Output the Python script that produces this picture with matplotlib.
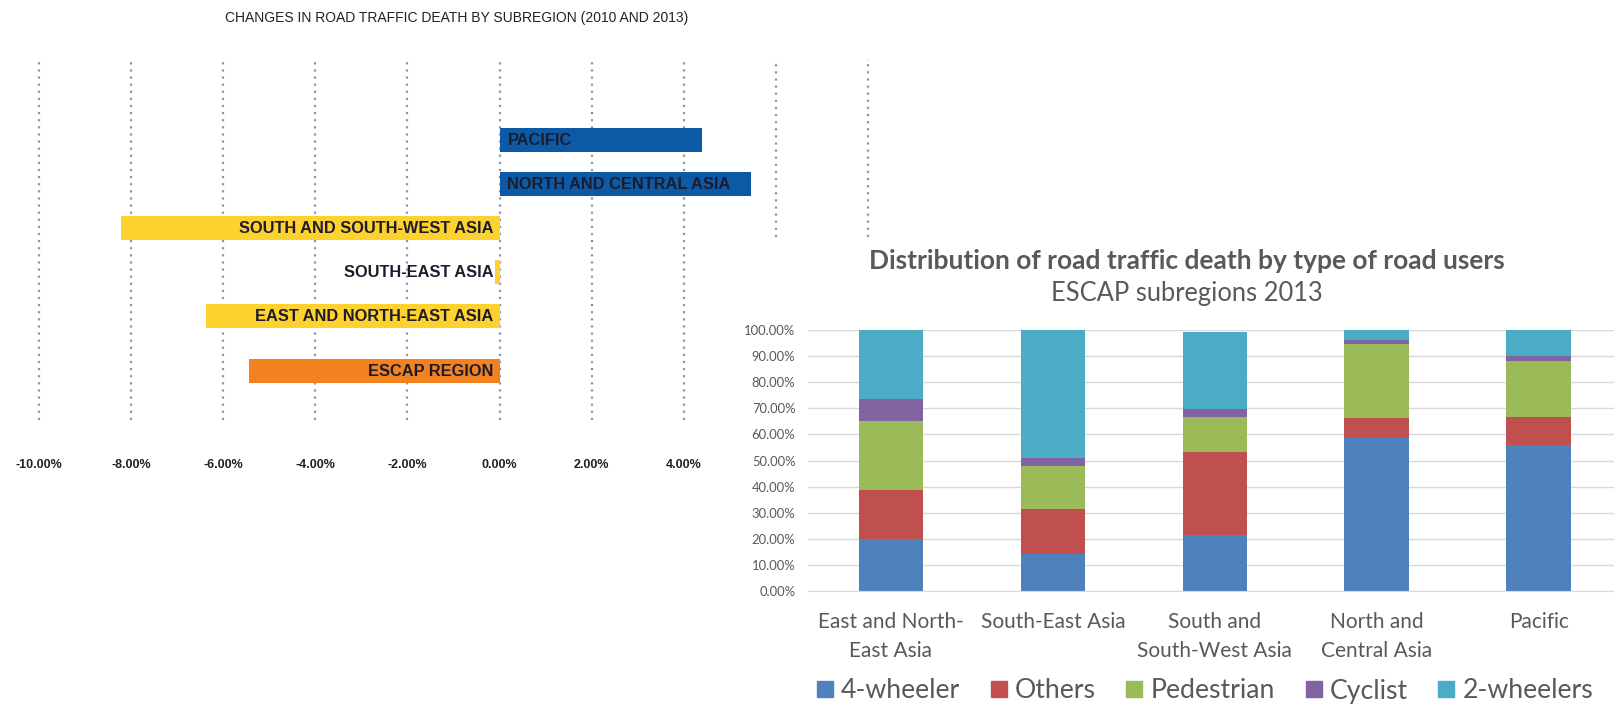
import matplotlib
matplotlib.use("Agg")
import matplotlib.pyplot as plt
import numpy as np
from matplotlib.lines import Line2D

# ---------------- data ----------------
# Left chart: change in road traffic deaths 2010-2013
change_regions = ["PACIFIC", "NORTH AND CENTRAL ASIA", "SOUTH AND SOUTH-WEST ASIA",
                  "SOUTH-EAST ASIA", "EAST AND NORTH-EAST ASIA", "ESCAP REGION"]
change_values = [4.39, 5.45, -8.21, -0.09, -6.37, -5.45]
change_colors = ["#0c5aa6", "#0c5aa6", "#fdd12e", "#fdd12e", "#fdd12e", "#f2821f"]
change_ticks = [-10, -8, -6, -4, -2, 0, 2, 4]
change_ticklabels = ["-10.00%", "-8.00%", "-6.00%", "-4.00%", "-2.00%", "0.00%", "2.00%", "4.00%"]
grid_values = [-10, -8, -6, -4, -2, 0, 2, 4, 6, 8]

# Right chart: distribution by road user type (2013)
subregions = ["East and North-\nEast Asia", "South-East Asia", "South and\nSouth-West Asia",
              "North and\nCentral Asia", "Pacific"]
user_types = ["4-wheeler", "Others", "Pedestrian", "Cyclist", "2-wheelers"]
four_wheeler = [19.8, 14.0, 21.6, 58.5, 56.0]
others = [19.0, 17.5, 31.8, 7.6, 10.5]
pedestrian = [26.3, 16.3, 13.1, 28.6, 21.6]
cyclist = [8.3, 3.0, 3.2, 1.5, 2.1]
two_wheelers = [26.6, 49.2, 29.7, 3.8, 9.8]
user_colors = ["#4f81bd", "#c0504d", "#9bbb59", "#8064a2", "#4bacc6"]

# ---------------- figure ----------------
W, H = 1615, 707
fig = plt.figure(figsize=(W / 100, H / 100), dpi=100)
fig.patch.set_facecolor("white")

def fax(x0, y0, x1, y1):
    return [x0 / W, 1 - y1 / H, (x1 - x0) / W, (y1 - y0) / H]

narrow = ["Liberation Sans", "DejaVu Sans"]

# ---------- left chart ----------
ax1 = fig.add_axes(fax(0, 59, 900, 420))
ax1.set_xlim(-10.847, 8.695)
ax1.set_ylim(6.36, -1.84)
for g in grid_values:
    ymin = 0.507 if g > 4 else 0.0
    ax1.axvline(g, ymin=ymin, ymax=1, color="#8f93b0", lw=1.6,
                linestyle=(0, (1, 2.2)), zorder=0)
rows = np.array([0, 1, 2, 3, 4, 5.25])
ax1.barh(rows, change_values, height=0.55, color=change_colors, zorder=2)
for r, v, name in zip(rows, change_values, change_regions):
    if v >= 0:
        ax1.text(0.17, r, name, ha="left", va="center", fontsize=11.8,
                 fontweight="bold", family=narrow, color="#1c1c2c", zorder=3)
    else:
        ax1.text(-0.13, r, name, ha="right", va="center", fontsize=11.8,
                 fontweight="bold", family=narrow, color="#1c1c2c", zorder=3)
ax1.set_xticks(change_ticks)
ax1.set_xticklabels(change_ticklabels, fontsize=9, fontweight="bold",
                    family=narrow, color="#222222")
ax1.tick_params(axis="x", length=0, pad=28)
ax1.set_yticks([])
for s in ax1.spines.values():
    s.set_visible(False)
ax1.patch.set_alpha(0)

fig.text(457 / W, 1 - 18 / H, "CHANGES IN ROAD TRAFFIC DEATH BY SUBREGION (2010 AND 2013)",
         ha="center", va="center", fontsize=10, family=narrow, color="#222222")

# ---------- right chart ----------
ax2 = fig.add_axes(fax(808, 330, 1615, 591))
x = np.arange(len(subregions))
series = [four_wheeler, others, pedestrian, cyclist, two_wheelers]
bottom = np.zeros(len(subregions))
for vals, col, name in zip(series, user_colors, user_types):
    v = np.array(vals) / 100.0
    ax2.bar(x, v, width=0.4, bottom=bottom, color=col, label=name, zorder=2)
    bottom += v
ax2.set_xlim(-0.512, 4.47)
ax2.set_ylim(0, 1.0)
ax2.set_yticks(np.arange(0, 1.01, 0.1))
ax2.set_yticklabels([f"{t * 100:.2f}%" for t in np.arange(0, 1.01, 0.1)],
                    fontsize=9.4, color="#595959", family="Lato")
ax2.yaxis.grid(True, color="#d9d9d9", lw=1, zorder=0)
ax2.set_axisbelow(True)
ax2.tick_params(axis="y", length=0, pad=9)
ax2.set_xticks(x)
ax2.set_xticklabels(subregions, fontsize=15, color="#595959", family="Lato",
                    linespacing=1.55)
ax2.tick_params(axis="x", length=0, pad=15)
for k in ["top", "right", "left"]:
    ax2.spines[k].set_visible(False)
ax2.spines["bottom"].set_color("#d9d9d9")

fig.text(1187 / W, 1 - 261 / H,
         "Distribution of road traffic death by type of road users",
         ha="center", va="center", fontsize=19, fontweight="bold",
         family="Lato", color="#595959")
fig.text(1187 / W, 1 - 294 / H, "ESCAP subregions 2013",
         ha="center", va="center", fontsize=18.4, family="Lato", color="#595959")

handles = [Line2D([], [], marker="s", linestyle="none", markersize=11.5,
                  markerfacecolor=c, markeredgecolor=c) for c in user_colors]
leg = fig.legend(handles, user_types, loc="center", ncol=5,
                 bbox_to_anchor=(1205 / W, 1 - 691 / H), frameon=False,
                 handletextpad=0.3, columnspacing=1.15, handlelength=0.6,
                 borderpad=0.1, prop={"family": "Lato", "size": 19.2})
for t in leg.get_texts():
    t.set_color("#595959")

fig.savefig("out.png", dpi=100)
